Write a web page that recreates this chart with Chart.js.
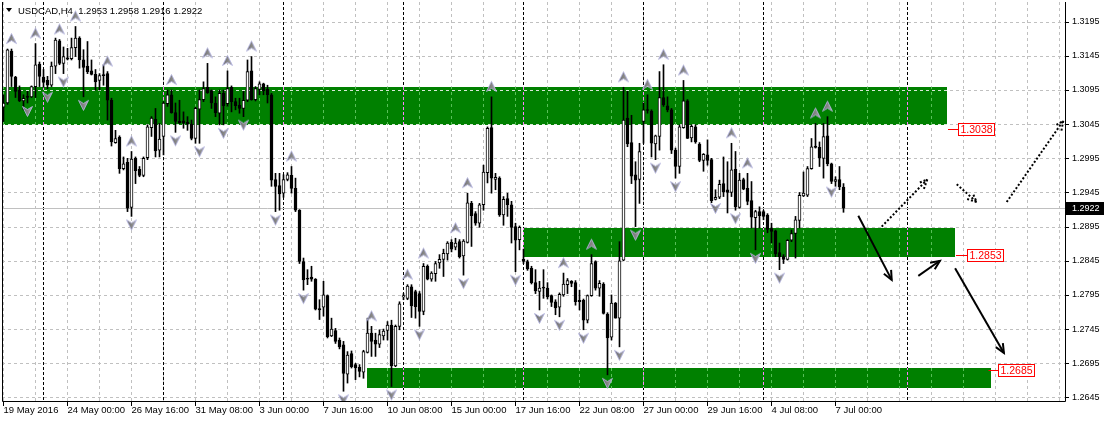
<!DOCTYPE html>
<html>
<head>
<meta charset="utf-8">
<script src="https://cdn.jsdelivr.net/npm/chart.js@4.4.0/dist/chart.umd.min.js"></script>
<style>
  html, body { margin: 0; padding: 0; background: #fff; }
</style>
</head>
<body>
<canvas id="chart" width="1105" height="422"></canvas>
<script>
// USDCAD H4 candles, 19 May - 7 Jul 2016
const chartTitle = 'USDCAD,H4  1.2953 1.2958 1.2916 1.2922';

const opens = [
  1.3070,1.3076,1.3152,1.3114,1.3095,1.3079,1.3086,1.3085,1.3100,1.3133,
  1.3114,1.3109,1.3102,1.3130,1.3167,1.3134,1.3142,1.3141,1.3157,1.3171,
  1.3139,1.3130,1.3123,1.3118,1.3109,1.3117,1.3119,1.3080,1.3018,1.3026,
  1.2980,1.2989,1.2923,1.2995,1.2979,1.2970,1.2996,1.3040,1.3052,1.3007,
  1.3027,1.3075,1.3088,1.3062,1.3049,1.3050,1.3048,1.3045,1.3024,1.3067,
  1.3081,1.3099,1.3094,1.3076,1.3061,1.3090,1.3075,1.3099,1.3078,1.3073,
  1.3068,1.3080,1.3123,1.3081,1.3096,1.3104,1.3096,1.3088,1.2964,1.2955,
  1.2944,1.2964,1.2970,1.2951,1.2919,1.2844,1.2819,1.2821,1.2818,1.2775,
  1.2777,1.2794,1.2735,1.2743,1.2729,1.2722,1.2679,1.2709,1.2693,1.2689,
  1.2682,1.2711,1.2739,1.2729,1.2723,1.2735,1.2743,1.2751,1.2691,1.2749,
  1.2792,1.2790,1.2807,1.2800,1.2797,1.2771,1.2837,1.2818,1.2826,1.2842,
  1.2847,1.2855,1.2872,1.2865,1.2873,1.2852,1.2872,1.2929,1.2914,1.2900,
  1.2927,1.2974,1.3040,1.2964,1.2966,1.2912,1.2936,1.2927,1.2895,1.2876,
  1.2847,1.2844,1.2834,1.2813,1.2800,1.2806,1.2805,1.2794,1.2785,1.2777,
  1.2795,1.2810,1.2815,1.2813,1.2787,1.2787,1.2758,1.2794,1.2844,1.2805,
  1.2811,1.2767,1.2733,1.2783,1.2761,1.2846,1.3054,1.3018,1.2971,1.2964,
  1.3049,1.3066,1.3064,1.3016,1.3027,1.3084,1.3072,1.3066,1.3007,1.2983,
  1.3040,1.3079,1.3025,1.3041,1.3016,1.2992,1.3000,1.2993,1.2935,1.2938,
  1.2958,1.2949,1.2945,1.2979,1.2923,1.2964,1.2951,1.2933,1.2908,1.2917,
  1.2917,1.2912,1.2892,1.2889,1.2857,1.2851,1.2847,1.2875,1.2885,1.2904,
  1.2940,1.2941,1.2980,1.3013,1.3011,1.2995,1.3028,1.2987,1.2961,1.2964,
  1.2953
];
const highs = [
  1.3088,1.3155,1.3155,1.3115,1.3101,1.3088,1.3093,1.3101,1.3163,1.3136,
  1.3125,1.3115,1.3136,1.3171,1.3169,1.3158,1.3156,1.3171,1.3188,1.3173,
  1.3154,1.3166,1.3139,1.3125,1.3119,1.3132,1.3122,1.3083,1.3036,1.3028,
  1.2997,1.2995,1.3005,1.2997,1.2983,1.2997,1.3044,1.3056,1.3068,1.3046,
  1.3078,1.3095,1.3095,1.3076,1.3080,1.3063,1.3056,1.3051,1.3070,1.3095,
  1.3107,1.3134,1.3095,1.3085,1.3095,1.3095,1.3123,1.3101,1.3083,1.3083,
  1.3093,1.3139,1.3144,1.3100,1.3107,1.3105,1.3102,1.3090,1.2973,1.2973,
  1.2971,1.2974,1.2983,1.2966,1.2920,1.2849,1.2832,1.2837,1.2819,1.2788,
  1.2815,1.2795,1.2761,1.2746,1.2732,1.2727,1.2712,1.2713,1.2695,1.2693,
  1.2714,1.2761,1.2749,1.2739,1.2744,1.2745,1.2756,1.2758,1.2751,1.2785,
  1.2797,1.2810,1.2810,1.2802,1.2800,1.2841,1.2839,1.2829,1.2844,1.2854,
  1.2862,1.2873,1.2876,1.2878,1.2876,1.2876,1.2944,1.2932,1.2917,1.2929,
  1.2985,1.3041,1.3085,1.2973,1.2968,1.2939,1.2944,1.2932,1.2900,1.2896,
  1.2862,1.2846,1.2837,1.2832,1.2815,1.2832,1.2813,1.2795,1.2788,1.2798,
  1.2827,1.2819,1.2816,1.2816,1.2802,1.2789,1.2795,1.2854,1.2845,1.2816,
  1.2813,1.2769,1.2795,1.2784,1.2873,1.3099,1.3093,1.3058,1.2990,1.3017,
  1.3076,1.3088,1.3066,1.3029,1.3122,1.3132,1.3085,1.3068,1.3010,1.3044,
  1.3109,1.3081,1.3044,1.3044,1.3018,1.3002,1.3022,1.2995,1.2949,1.2963,
  1.2997,1.2990,1.3017,1.3005,1.2973,1.2966,1.2973,1.2961,1.2919,1.2924,
  1.2919,1.2914,1.2900,1.2890,1.2871,1.2854,1.2876,1.2890,1.2910,1.2945,
  1.2975,1.2983,1.3024,1.3046,1.3019,1.3046,1.3056,1.2988,1.2968,1.2983,
  1.2958
];
const lows = [
  1.3049,1.3074,1.3100,1.3084,1.3078,1.3066,1.3076,1.3084,1.3084,1.3100,
  1.3099,1.3097,1.3100,1.3119,1.3132,1.3119,1.3139,1.3139,1.3144,1.3127,
  1.3085,1.3119,1.3117,1.3095,1.3095,1.3102,1.3051,1.3013,1.3017,1.2973,
  1.2978,1.2917,1.2910,1.2958,1.2968,1.2968,1.2993,1.3027,1.2997,1.2997,
  1.3000,1.3071,1.3061,1.3033,1.3046,1.3039,1.3036,1.3022,1.3017,1.3017,
  1.3078,1.3090,1.3068,1.3056,1.3044,1.3044,1.3071,1.3063,1.3066,1.3061,
  1.3056,1.3078,1.3080,1.3079,1.3088,1.3088,1.3076,1.2954,1.2917,1.2919,
  1.2938,1.2962,1.2944,1.2917,1.2841,1.2802,1.2810,1.2815,1.2773,1.2759,
  1.2764,1.2732,1.2734,1.2724,1.2716,1.2654,1.2666,1.2688,1.2671,1.2675,
  1.2673,1.2710,1.2705,1.2705,1.2718,1.2729,1.2729,1.2661,1.2690,1.2744,
  1.2788,1.2788,1.2762,1.2761,1.2749,1.2766,1.2817,1.2815,1.2815,1.2834,
  1.2822,1.2846,1.2858,1.2861,1.2849,1.2824,1.2871,1.2866,1.2897,1.2894,
  1.2919,1.2959,1.2944,1.2949,1.2910,1.2897,1.2910,1.2871,1.2829,1.2861,
  1.2841,1.2831,1.2811,1.2797,1.2773,1.2790,1.2789,1.2778,1.2766,1.2763,
  1.2793,1.2797,1.2807,1.2780,1.2773,1.2744,1.2754,1.2793,1.2802,1.2793,
  1.2767,1.2678,1.2729,1.2761,1.2719,1.2845,1.3012,1.2958,1.2895,1.2929,
  1.3017,1.3061,1.2997,1.2993,1.3007,1.3071,1.3063,1.3002,1.2966,1.2973,
  1.3039,1.3024,1.3019,1.3017,1.2990,1.2976,1.2985,1.2930,1.2934,1.2936,
  1.2939,1.2915,1.2939,1.2919,1.2922,1.2949,1.2927,1.2893,1.2861,1.2893,
  1.2905,1.2886,1.2871,1.2851,1.2832,1.2841,1.2846,1.2873,1.2849,1.2893,
  1.2939,1.2939,1.2979,1.3010,1.2983,1.2966,1.2984,1.2958,1.2954,1.2949,
  1.2916
];
const closes = [
  1.3076,1.3154,1.3115,1.3093,1.3079,1.3083,1.3084,1.3100,1.3132,1.3115,
  1.3106,1.3102,1.3130,1.3168,1.3134,1.3144,1.3140,1.3157,1.3171,1.3139,
  1.3128,1.3122,1.3118,1.3107,1.3116,1.3116,1.3080,1.3019,1.3024,1.2980,
  1.2987,1.2922,1.2994,1.2977,1.2970,1.2995,1.3041,1.3054,1.3006,1.3023,
  1.3076,1.3088,1.3062,1.3049,1.3047,1.3047,1.3045,1.3024,1.3068,1.3081,
  1.3097,1.3091,1.3076,1.3062,1.3090,1.3072,1.3097,1.3078,1.3072,1.3068,
  1.3080,1.3122,1.3081,1.3097,1.3104,1.3094,1.3088,1.2963,1.2954,1.2943,
  1.2964,1.2971,1.2951,1.2919,1.2844,1.2817,1.2818,1.2818,1.2774,1.2773,
  1.2795,1.2734,1.2745,1.2727,1.2719,1.2680,1.2707,1.2690,1.2688,1.2683,
  1.2712,1.2739,1.2727,1.2723,1.2737,1.2742,1.2751,1.2691,1.2749,1.2782,
  1.2794,1.2808,1.2779,1.2778,1.2771,1.2837,1.2818,1.2827,1.2841,1.2847,
  1.2856,1.2871,1.2862,1.2871,1.2851,1.2874,1.2930,1.2911,1.2900,1.2927,
  1.2975,1.3039,1.2966,1.2967,1.2912,1.2935,1.2927,1.2894,1.2875,1.2894,
  1.2844,1.2833,1.2813,1.2801,1.2805,1.2805,1.2792,1.2784,1.2776,1.2796,
  1.2811,1.2816,1.2812,1.2785,1.2785,1.2758,1.2794,1.2841,1.2805,1.2812,
  1.2768,1.2732,1.2783,1.2761,1.2845,1.3051,1.3016,1.2969,1.2963,1.3005,
  1.3066,1.3065,1.3017,1.3028,1.3084,1.3073,1.3066,1.3007,1.2983,1.3041,
  1.3079,1.3024,1.3042,1.3019,1.2992,1.3001,1.2992,1.2933,1.2938,1.2957,
  1.2946,1.2945,1.2978,1.2924,1.2963,1.2950,1.2932,1.2909,1.2917,1.2911,
  1.2910,1.2891,1.2888,1.2855,1.2851,1.2847,1.2875,1.2885,1.2905,1.2941,
  1.2944,1.2980,1.3012,1.3011,1.2996,1.3027,1.2987,1.2961,1.2964,1.2953,
  1.2922
];

// time axis (bar index -> label)
const timeLabelBars = [0, 16, 32, 48, 64, 80, 96, 112, 128, 144, 160, 176, 192, 208];
const timeLabels = ['19 May 2016', '24 May 00:00', '26 May 16:00', '31 May 08:00', '3 Jun 00:00',
  '7 Jun 16:00', '10 Jun 08:00', '15 Jun 00:00', '17 Jun 16:00', '22 Jun 08:00',
  '27 Jun 00:00', '29 Jun 16:00', '4 Jul 08:00', '7 Jul 00:00'];
const priceTicks = [1.2645, 1.2695, 1.2745, 1.2795, 1.2845, 1.2895, 1.2945, 1.2995, 1.3045, 1.3095, 1.3145, 1.3195];

// weekly separators
const separatorBars = [10, 40, 70, 100, 130, 160, 190, 226];

// fractals
const fractalUpBars = [2, 8, 14, 18, 26, 32, 42, 51, 56, 62, 72, 92, 101, 105, 113, 116, 122, 140, 147, 155, 161, 165, 170, 182, 186, 203, 206];
const fractalDownBars = [6, 11, 15, 20, 32, 43, 49, 55, 60, 68, 75, 85, 97, 104, 115, 128, 134, 139, 145, 151, 154, 158, 163, 168, 178, 183, 188, 194, 207];

// support / resistance zones
const zoneTops = [1.3099, 1.2893, 1.2688];
const zoneBottoms = [1.3044, 1.2850, 1.2659];
const zoneStarts = [-5, 129.9, 90.9];
const zoneEnds = [235.8, 237.9, 246.8];

// price level tags
const levelPrices = [1.3038, 1.2853, 1.2685];
const levelTagBars = [238.7, 240.8, 248.7];

// hand drawn arrows
const arrowX1 = [213.7, 219.55, 228.7, 238.3, 237.9, 250.8];
const arrowP1 = [1.2911, 1.2895, 1.2823, 1.2957, 1.2834, 1.2931];
const arrowX2 = [222.05, 230.95, 234.1, 243.3, 250.1, 264.95];
const arrowP2 = [1.2817, 1.2964, 1.2845, 1.2931, 1.2710, 1.3050];
const arrowDotted = [false, true, false, true, false, true];

const FONT = 'Liberation Sans';
Chart.defaults.font.family = FONT;
Chart.defaults.font.size = 9.5;
Chart.defaults.color = '#000';

const idx = opens.map((_, i) => i);
const bull = idx.map(i => closes[i] >= opens[i]);
const wickData = idx.map(i => ({ x: i, y: [lows[i], highs[i]] }));
const bodyData = idx.map(i => ({ x: i, y: [Math.min(opens[i], closes[i]), Math.max(opens[i], closes[i])] }));

function makeGlyph(up) {
  const c = document.createElement('canvas');
  c.width = 15; c.height = 44;
  const g = c.getContext('2d');
  const cx = 7.5, cy = up ? 12 : 30, s = up ? 1 : -1;
  g.beginPath();
  g.moveTo(cx, cy - 5.5 * s);
  g.lineTo(cx + 5, cy + 4.5 * s);
  g.lineTo(cx, cy + 1.5 * s);
  g.lineTo(cx - 5, cy + 4.5 * s);
  g.closePath();
  const grad = g.createLinearGradient(cx - 5, 0, cx + 5, 0);
  grad.addColorStop(0, '#6c6c6c');
  grad.addColorStop(0.5, '#858585');
  grad.addColorStop(1, '#b0b0b0');
  g.fillStyle = grad;
  g.fill();
  g.strokeStyle = 'rgba(180,180,225,0.85)';
  g.lineWidth = 1;
  g.stroke();
  return c;
}

const backgroundLayer = {
  id: 'backgroundLayer',
  beforeDatasetsDraw(chart) {
    const { ctx, chartArea: a } = chart;
    const xs = chart.scales.x, ys = chart.scales.y;
    const vx = v => Math.floor(xs.getPixelForValue(v)) + 0.5;
    const vy = v => Math.round(ys.getPixelForValue(v)) + 0.5;
    const gridBars = [];
    for (let b = 0; b <= 264; b += 8) gridBars.push(b);

    const drawGrid = (hColor, vColor, sepColor) => {
      ctx.lineWidth = 1;
      ctx.setLineDash([3, 3]);
      ctx.strokeStyle = hColor;
      priceTicks.forEach(p => {
        ctx.beginPath(); ctx.moveTo(a.left, vy(p)); ctx.lineTo(a.right, vy(p)); ctx.stroke();
      });
      ctx.strokeStyle = vColor;
      gridBars.forEach(b => {
        ctx.beginPath(); ctx.moveTo(vx(b), a.top); ctx.lineTo(vx(b), a.bottom); ctx.stroke();
      });
      ctx.setLineDash([3, 2]);
      ctx.strokeStyle = sepColor;
      separatorBars.forEach(b => {
        ctx.beginPath(); ctx.moveTo(vx(b), a.top); ctx.lineTo(vx(b), a.bottom); ctx.stroke();
      });
      ctx.setLineDash([]);
    };

    ctx.save();
    ctx.beginPath(); ctx.rect(a.left, a.top, a.right - a.left, a.bottom - a.top); ctx.clip();
    drawGrid('#c0c0c0', '#c0c0c0', '#000');

    // last price line
    const ly = vy(closes[closes.length - 1]);
    ctx.strokeStyle = '#c0c0c0';
    ctx.beginPath(); ctx.moveTo(a.left, ly); ctx.lineTo(a.right, ly); ctx.stroke();

    // zones
    zoneTops.forEach((t, k) => {
      const x1 = Math.round(xs.getPixelForValue(zoneStarts[k]));
      const x2 = Math.round(xs.getPixelForValue(zoneEnds[k]));
      const y1 = Math.round(ys.getPixelForValue(t));
      const y2 = Math.round(ys.getPixelForValue(zoneBottoms[k]));
      ctx.fillStyle = '#008000';
      ctx.fillRect(x1, y1, x2 - x1, y2 - y1);
      ctx.save();
      ctx.beginPath(); ctx.rect(x1, y1, x2 - x1, y2 - y1); ctx.clip();
      drawGrid('#d8e8d8', '#58c058', '#ff80ff');
      ctx.restore();
    });
    ctx.restore();
  }
};

const overlayLayer = {
  id: 'overlayLayer',
  afterDatasetsDraw(chart) {
    const { ctx, chartArea: a } = chart;
    const xs = chart.scales.x, ys = chart.scales.y;
    const px = v => xs.getPixelForValue(v);
    const py = v => ys.getPixelForValue(v);

    // arrows
    ctx.save();
    ctx.beginPath(); ctx.rect(a.left, a.top, a.right - a.left + 1, a.bottom - a.top); ctx.clip();
    ctx.strokeStyle = '#000';
    ctx.lineWidth = 2;
    ctx.lineCap = 'butt';
    arrowX1.forEach((x1, k) => {
      const sx = px(x1), sy = py(arrowP1[k]), ex = px(arrowX2[k]), ey = py(arrowP2[k]);
      ctx.setLineDash(arrowDotted[k] ? [2, 2] : []);
      ctx.beginPath(); ctx.moveTo(sx, sy); ctx.lineTo(ex, ey); ctx.stroke();
      const ang = Math.atan2(ey - sy, ex - sx);
      const L = 10, w = 0.42;
      ctx.beginPath();
      ctx.moveTo(ex - L * Math.cos(ang - w), ey - L * Math.sin(ang - w));
      ctx.lineTo(ex, ey);
      ctx.lineTo(ex - L * Math.cos(ang + w), ey - L * Math.sin(ang + w));
      ctx.stroke();
    });
    ctx.setLineDash([]);
    ctx.restore();

    // level tags
    ctx.save();
    ctx.font = '10.5px "' + FONT + '"';
    ctx.textBaseline = 'middle';
    levelPrices.forEach((p, k) => {
      const y = Math.round(py(p)) + 0.5;
      const xz = Math.round(px(zoneEnds[k]));
      const bx = Math.round(px(levelTagBars[k])) + 0.5;
      ctx.strokeStyle = '#ff0000';
      ctx.lineWidth = 1;
      ctx.beginPath(); ctx.moveTo(Math.min(xz + 1, bx - 10), y); ctx.lineTo(bx, y); ctx.stroke();
      ctx.fillStyle = '#fff';
      ctx.fillRect(bx, y - 6, 36, 12);
      ctx.strokeRect(bx, y - 6, 36, 12);
      ctx.fillStyle = '#ff0000';
      ctx.fillText(p.toFixed(4), bx + 2, y + 0.5);
    });
    ctx.restore();

    // header
    ctx.save();
    ctx.fillStyle = '#000';
    ctx.beginPath(); ctx.moveTo(6, 8); ctx.lineTo(12, 8); ctx.lineTo(9, 12); ctx.closePath(); ctx.fill();
    ctx.font = '9.5px "' + FONT + '"';
    ctx.textBaseline = 'middle';
    ctx.fillText(chartTitle, 18, 11);
    ctx.restore();

    // frame and axis ticks
    ctx.save();
    ctx.strokeStyle = '#000';
    ctx.lineWidth = 1;
    ctx.beginPath();
    ctx.moveTo(a.left + 0.5, a.top); ctx.lineTo(a.left + 0.5, a.bottom + 0.5);
    ctx.lineTo(a.right + 0.5, a.bottom + 0.5); ctx.lineTo(a.right + 0.5, a.top);
    ctx.stroke();
    priceTicks.forEach(p => {
      const y = Math.round(py(p)) + 0.5;
      ctx.beginPath(); ctx.moveTo(a.right, y); ctx.lineTo(a.right + 4, y); ctx.stroke();
    });
    timeLabelBars.forEach(b => {
      const x = Math.floor(px(b)) + 0.5;
      ctx.beginPath(); ctx.moveTo(x, a.bottom); ctx.lineTo(x, a.bottom + 5); ctx.stroke();
    });

    // last price tag
    const last = closes[closes.length - 1];
    const ly = Math.round(py(last));
    ctx.fillStyle = '#000';
    ctx.fillRect(a.right + 1, ly - 6, 38, 13);
    ctx.fillStyle = '#fff';
    ctx.font = '9px "' + FONT + '"';
    ctx.textBaseline = 'middle';
    ctx.fillText(last.toFixed(4), a.right + 7, ly + 0.5);
    ctx.restore();
  }
};

new Chart(document.getElementById('chart'), {
  type: 'bar',
  data: {
    datasets: [
      {
        type: 'bar', data: wickData, backgroundColor: '#000', borderWidth: 0,
        barThickness: 1, grouped: false, order: 3
      },
      {
        type: 'bar', data: bodyData,
        backgroundColor: bull.map(b => b ? '#fff' : '#000'),
        borderColor: '#000', borderWidth: 1, borderSkipped: false,
        barThickness: 3, minBarLength: 1, grouped: false, order: 2
      },
      {
        type: 'scatter', data: fractalUpBars.map(i => ({ x: i, y: highs[i] })),
        pointStyle: makeGlyph(true), pointRadius: 5, order: 1
      },
      {
        type: 'scatter', data: fractalDownBars.map(i => ({ x: i, y: lows[i] })),
        pointStyle: makeGlyph(false), pointRadius: 5, order: 1
      }
    ]
  },
  options: {
    responsive: false,
    animation: false,
    devicePixelRatio: 1,
    events: [],
    layout: { autoPadding: false, padding: { top: 2, left: 2, right: 0, bottom: 0 } },
    plugins: { legend: { display: false }, tooltip: { enabled: false } },
    scales: {
      x: {
        type: 'linear', offset: false,
        min: -0.375, max: 265.375,
        grid: { display: false, drawTicks: false },
        border: { display: false },
        afterBuildTicks: s => { s.ticks = timeLabelBars.map(v => ({ value: v })); },
        afterFit: s => { s.height = 21; s.paddingLeft = 0; s.paddingRight = 0; },
        ticks: {
          autoSkip: false, maxRotation: 0, align: 'start', padding: 4,
          font: { size: 9.5 },
          callback: v => timeLabels[timeLabelBars.indexOf(v)] || ''
        }
      },
      y: {
        type: 'linear', position: 'right',
        min: 1.263973, max: 1.322384,
        grid: { display: false, drawTicks: false },
        border: { display: false },
        afterBuildTicks: s => { s.ticks = priceTicks.map(v => ({ value: v })); },
        afterFit: s => { s.width = 40; s.paddingTop = 0; s.paddingBottom = 0; },
        ticks: {
          padding: 7, font: { size: 9 },
          callback: v => Number(v).toFixed(4)
        }
      }
    }
  },
  plugins: [backgroundLayer, overlayLayer]
});
</script>
</body>
</html>
